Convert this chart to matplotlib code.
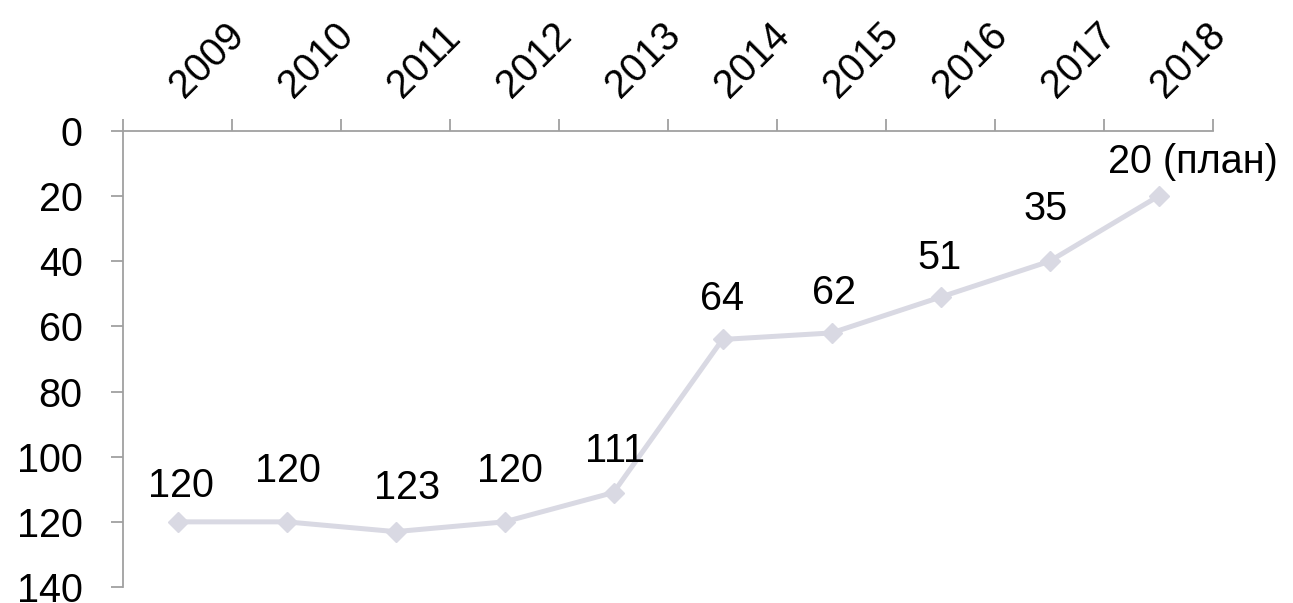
import numpy as np
import matplotlib.pyplot as plt

plt.rcParams['font.family'] = ['Liberation Sans', 'DejaVu Sans']

years = ["2009", "2010", "2011", "2012", "2013", "2014", "2015", "2016", "2017", "2018"]
values = [120, 120, 123, 120, 111, 64, 62, 51, 40, 20]
labels = ["120", "120", "123", "120", "111", "64", "62", "51", "35", "20 (план)"]
# label offsets in pixels (dx, dy)
offsets = [(3, 36), (1, 51), (12, 44), (5, 51), (2, 42), (0, 40), (3, 40), (-1, 39), (-4, 52), (34, 34)]

fig = plt.figure(figsize=(12.93, 6.03), dpi=100)
ax = fig.add_axes([123 / 1293, 1 - 587 / 603, 1090 / 1293, 456 / 603])

x = np.arange(len(years))
ax.plot(x, values, color="#d9d9e3", lw=3.6, marker="D", ms=10, mec="#d9d9e3", mfc="#d9d9e3",
        solid_capstyle="round", clip_on=False)

for xi, v, lab, (dx, dy) in zip(x, values, labels, offsets):
    ax.annotate(lab, (xi, v), xytext=(dx, dy), textcoords="offset pixels",
                ha="center", va="center", fontsize=28.5, color="black")

ax.set_xlim(-0.5, len(years) - 0.5)
ax.set_ylim(140, 0)
ax.set_yticks(range(0, 141, 20))

ax.xaxis.tick_top()
# year labels sit a little right of the category centre
ax.set_xticks(x + 0.11)
ax.set_xticklabels(years, rotation=45, ha="left", va="bottom", rotation_mode="anchor")
ax.set_xticks(np.arange(len(years) + 1) - 0.5, minor=True)
ax.tick_params(axis="x", which="major", length=0, pad=19, labelsize=28.5)
ax.tick_params(axis="x", which="minor", length=9, width=1.3, color="#a0a0a0", top=True, bottom=False)
ax.tick_params(axis="y", length=9, width=1.3, color="#a0a0a0", pad=20, labelsize=28.5)

for side in ["right", "bottom"]:
    ax.spines[side].set_visible(False)
for side in ["left", "top"]:
    ax.spines[side].set_color("#a0a0a0")
    ax.spines[side].set_linewidth(1.3)

fig.savefig("out.png", dpi=100)
